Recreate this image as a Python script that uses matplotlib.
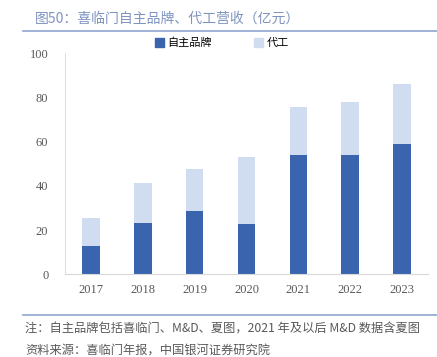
import matplotlib.pyplot as plt
from matplotlib.lines import Line2D
from matplotlib.patches import Patch

years = ['2017', '2018', '2019', '2020', '2021', '2022', '2023']
own_brand = [12.8, 23.4, 28.6, 22.9, 54.0, 54.1, 58.9]
oem = [12.8, 17.9, 18.9, 30.3, 21.8, 23.7, 27.3]
y_ticks = [0, 20, 40, 60, 80, 100]

title = '图50：喜临门自主品牌、代工营收（亿元）'
note = '注：自主品牌包括喜临门、M&D、夏图，2021 年及以后 M&D 数据含夏图'
source = '资料来源：喜临门年报，中国银河证券研究院'

dark = '#3A64AE'
light = '#D0DCF0'
cjk = ['Noto Sans CJK SC', 'DejaVu Sans']
serif = ['Liberation Serif', 'DejaVu Serif']

fig = plt.figure(figsize=(4.37, 3.57), dpi=100)
W, H = 437, 357
ax = fig.add_axes([65 / W, 1 - 274.3 / H, (428 - 65) / W, (274.3 - 53.3) / H])

x = range(len(years))
ax.bar(x, own_brand, width=0.34, color=dark, label='自主品牌')
ax.bar(x, oem, width=0.34, bottom=own_brand, color=light, label='代工')

ax.set_xlim(-0.5, len(years) - 0.5)
ax.set_ylim(0, 100)
ax.set_yticks(y_ticks)
ax.set_xticks(list(x))
ax.set_xticklabels(years)
for lab in ax.get_xticklabels() + ax.get_yticklabels():
    lab.set_family(serif)
    lab.set_fontsize(9)
    lab.set_color('#595959')
ax.tick_params(length=0)
ax.tick_params(axis='y', pad=12)
ax.tick_params(axis='x', pad=7)
for s in ['top', 'right']:
    ax.spines[s].set_visible(False)
ax.spines['left'].set_color('#e0e0e0')
ax.spines['bottom'].set_color('#d9d9d9')

handles = [Patch(color=dark), Patch(color=light)]
fig.legend(handles, ['自主品牌', '代工'], loc='center', bbox_to_anchor=(222 / W, 1 - 43 / H),
           ncol=2, frameon=False, prop={'family': cjk, 'size': 8},
           handlelength=0.8, handleheight=0.8, handletextpad=0.3, columnspacing=3.8)

fig.text(35 / W, 1 - 18.5 / H, title, family=cjk, fontsize=10, color='#7f93c0', va='center')
fig.add_artist(Line2D([23 / W, 1], [1 - 30.7 / H] * 2, color='#8fa4d0', lw=1.2))
fig.add_artist(Line2D([23 / W, 1], [1 - 315 / H] * 2, color='#8fa4d0', lw=1.2))
fig.text(25 / W, 1 - 329 / H, note, family=cjk, fontsize=8.8, style='italic', color='#595959', va='center')
fig.text(25 / W, 1 - 351 / H, source, family=cjk, fontsize=8.8, style='italic', color='#595959', va='center')

fig.savefig('out.png', dpi=100)
